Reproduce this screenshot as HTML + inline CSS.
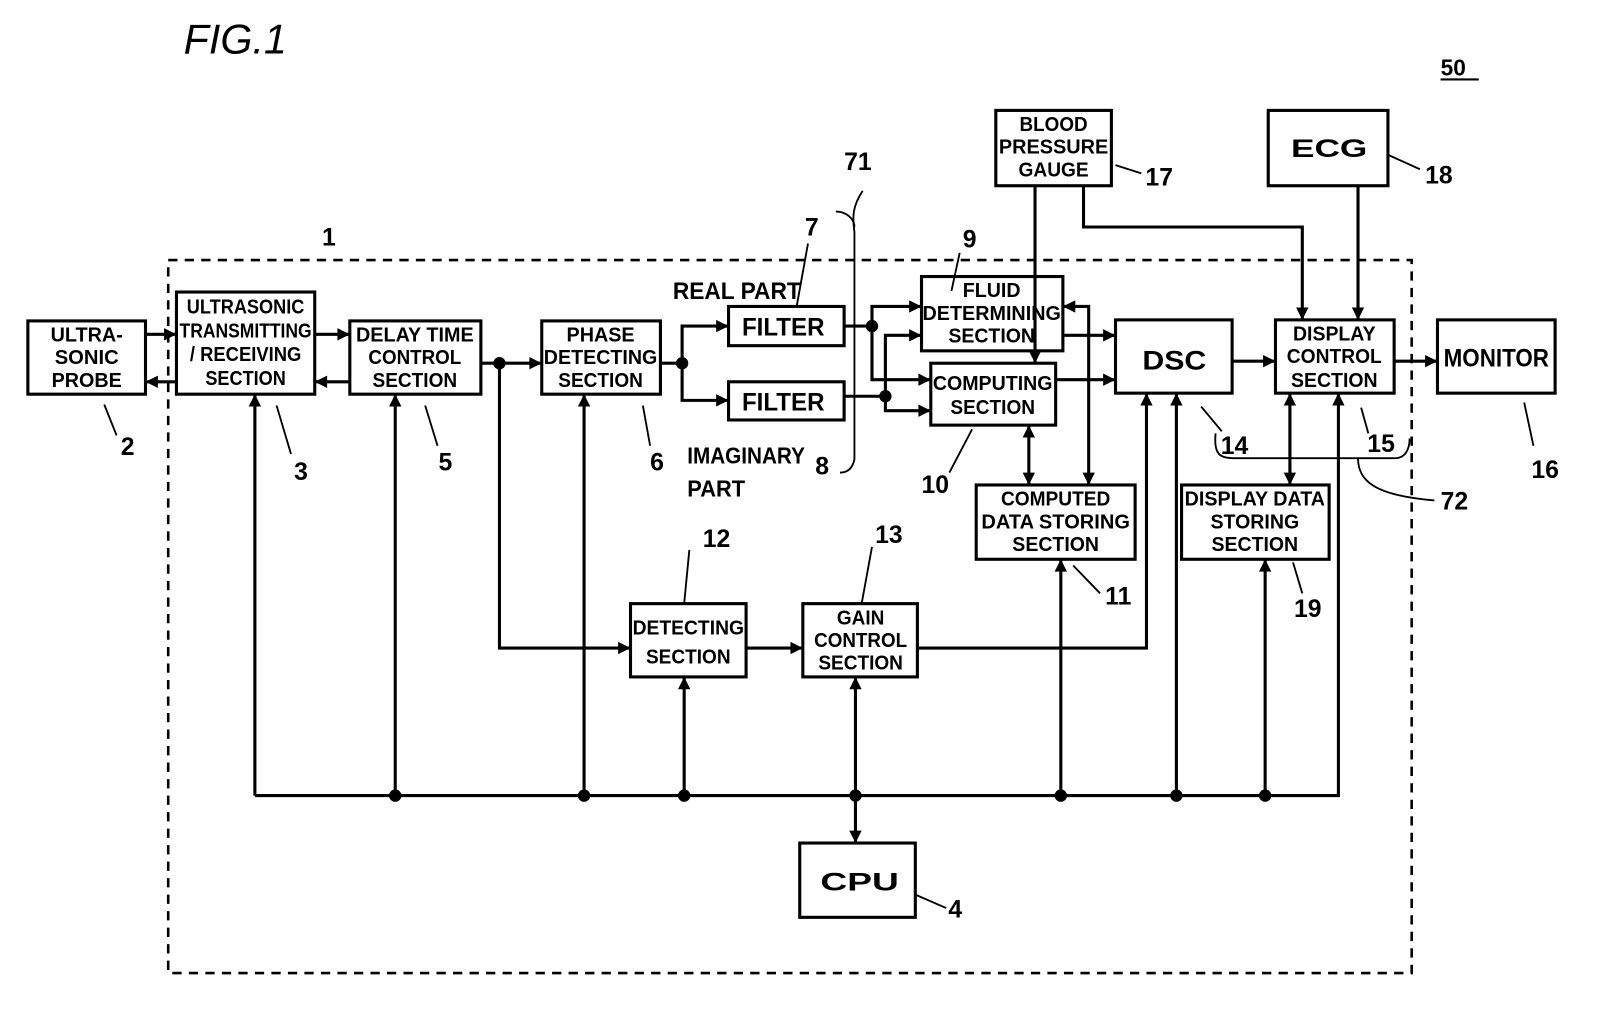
<!DOCTYPE html>
<html><head><meta charset="utf-8"><style>
html,body{margin:0;padding:0;background:#fff;}
svg{display:block}
text{font-family:"Liberation Sans",sans-serif;fill:#000;}
</style></head><body>
<svg width="1616" height="1036" viewBox="0 0 1566 1004" preserveAspectRatio="none" xmlns="http://www.w3.org/2000/svg">
<defs>
<marker id="a" viewBox="0 0 10 10" refX="10" refY="5" markerWidth="13" markerHeight="12" markerUnits="userSpaceOnUse" orient="auto-start-reverse"><path d="M0,0 L10,5 L0,10z" fill="#000"/></marker>
</defs>
<text x="178" y="52" font-family="Liberation Serif" font-style="italic" font-size="40">FIG.1</text>
<text x="1396" y="73" font-size="22" font-weight="bold">50</text>
<line x1="1396" y1="77" x2="1433" y2="77" stroke="#000" stroke-width="2"/>
<rect x="163" y="252" width="1205" height="691" fill="none" stroke="#000" stroke-width="2.5" stroke-dasharray="9,7"/>
<g fill="#fff" stroke="#000" stroke-width="3">
<rect x="27" y="311" width="114" height="71"/>
<rect x="171" y="283" width="134" height="99"/>
<rect x="339" y="311" width="127" height="71"/>
<rect x="525" y="311" width="115" height="71"/>
<rect x="706" y="297" width="112" height="38"/>
<rect x="706" y="370" width="112" height="37"/>
<rect x="893" y="268" width="137" height="72"/>
<rect x="902" y="352" width="121" height="60"/>
<rect x="1081" y="310" width="113" height="71"/>
<rect x="1236" y="310" width="115" height="71"/>
<rect x="1393" y="310" width="114" height="71"/>
<rect x="965" y="107" width="112" height="73"/>
<rect x="1229" y="107" width="116" height="73"/>
<rect x="946" y="470" width="154" height="72"/>
<rect x="1145" y="470" width="143" height="72"/>
<rect x="611" y="585" width="112" height="71"/>
<rect x="778" y="585" width="111" height="71"/>
<rect x="775" y="817" width="112" height="72"/>
</g>
<g font-size="20" text-anchor="middle" font-weight="bold">
<text x="84" y="331" textLength="70" lengthAdjust="spacingAndGlyphs">ULTRA-</text>
<text x="84" y="353" textLength="62" lengthAdjust="spacingAndGlyphs">SONIC</text>
<text x="84" y="375" textLength="68" lengthAdjust="spacingAndGlyphs">PROBE</text>
<text x="238" y="304" textLength="114" lengthAdjust="spacingAndGlyphs">ULTRASONIC</text>
<text x="238" y="327" textLength="128" lengthAdjust="spacingAndGlyphs">TRANSMITTING</text>
<text x="238" y="350" textLength="108" lengthAdjust="spacingAndGlyphs">/ RECEIVING</text>
<text x="238" y="373" textLength="78" lengthAdjust="spacingAndGlyphs">SECTION</text>
<text x="402" y="331" textLength="114" lengthAdjust="spacingAndGlyphs">DELAY TIME</text>
<text x="402" y="353" textLength="90" lengthAdjust="spacingAndGlyphs">CONTROL</text>
<text x="402" y="375" textLength="82" lengthAdjust="spacingAndGlyphs">SECTION</text>
<text x="582" y="331" textLength="66" lengthAdjust="spacingAndGlyphs">PHASE</text>
<text x="582" y="353" textLength="110" lengthAdjust="spacingAndGlyphs">DETECTING</text>
<text x="582" y="375" textLength="82" lengthAdjust="spacingAndGlyphs">SECTION</text>
<text x="759" y="325" font-size="24" textLength="80" lengthAdjust="spacingAndGlyphs">FILTER</text>
<text x="759" y="398" font-size="24" textLength="80" lengthAdjust="spacingAndGlyphs">FILTER</text>
<text x="961" y="288" textLength="56" lengthAdjust="spacingAndGlyphs">FLUID</text>
<text x="961" y="310" textLength="134" lengthAdjust="spacingAndGlyphs">DETERMINING</text>
<text x="961" y="332" textLength="84" lengthAdjust="spacingAndGlyphs">SECTION</text>
<text x="962" y="378" textLength="116" lengthAdjust="spacingAndGlyphs">COMPUTING</text>
<text x="962" y="401" textLength="82" lengthAdjust="spacingAndGlyphs">SECTION</text>
<text x="1138" y="358" font-size="26" textLength="62" lengthAdjust="spacingAndGlyphs">DSC</text>
<text x="1293" y="330" textLength="80" lengthAdjust="spacingAndGlyphs">DISPLAY</text>
<text x="1293" y="352" textLength="92" lengthAdjust="spacingAndGlyphs">CONTROL</text>
<text x="1293" y="375" textLength="84" lengthAdjust="spacingAndGlyphs">SECTION</text>
<text x="1450" y="355" font-size="24" textLength="102" lengthAdjust="spacingAndGlyphs">MONITOR</text>
<text x="1021" y="127" textLength="66" lengthAdjust="spacingAndGlyphs">BLOOD</text>
<text x="1021" y="149" textLength="106" lengthAdjust="spacingAndGlyphs">PRESSURE</text>
<text x="1021" y="171" textLength="68" lengthAdjust="spacingAndGlyphs">GAUGE</text>
<text x="1288" y="152" font-size="24" textLength="74" lengthAdjust="spacingAndGlyphs">ECG</text>
<text x="1023" y="490" textLength="106" lengthAdjust="spacingAndGlyphs">COMPUTED</text>
<text x="1023" y="512" textLength="144" lengthAdjust="spacingAndGlyphs">DATA STORING</text>
<text x="1023" y="534" textLength="84" lengthAdjust="spacingAndGlyphs">SECTION</text>
<text x="1216" y="490" textLength="136" lengthAdjust="spacingAndGlyphs">DISPLAY DATA</text>
<text x="1216" y="512" textLength="86" lengthAdjust="spacingAndGlyphs">STORING</text>
<text x="1216" y="534" textLength="84" lengthAdjust="spacingAndGlyphs">SECTION</text>
<text x="667" y="615" textLength="108" lengthAdjust="spacingAndGlyphs">DETECTING</text>
<text x="667" y="643" textLength="82" lengthAdjust="spacingAndGlyphs">SECTION</text>
<text x="834" y="605" textLength="46" lengthAdjust="spacingAndGlyphs">GAIN</text>
<text x="834" y="627" textLength="90" lengthAdjust="spacingAndGlyphs">CONTROL</text>
<text x="834" y="649" textLength="82" lengthAdjust="spacingAndGlyphs">SECTION</text>
<text x="833" y="863" font-size="24" textLength="76" lengthAdjust="spacingAndGlyphs">CPU</text>
</g>
<g font-size="24" font-weight="bold">
<text x="117" y="441">2</text><text x="285" y="465">3</text><text x="425" y="456">5</text>
<text x="630" y="456">6</text><text x="780" y="228">7</text><text x="790" y="460">8</text>
<text x="933" y="240">9</text><text x="893" y="478">10</text><text x="1071" y="586">11</text>
<text x="681" y="530">12</text><text x="848" y="526">13</text><text x="1183" y="440">14</text>
<text x="1325" y="438">15</text><text x="1484" y="463">16</text><text x="1110" y="180">17</text>
<text x="1381" y="178">18</text><text x="1254" y="598">19</text><text x="312" y="238">1</text>
<text x="919" y="889">4</text><text x="818" y="165">71</text><text x="1396" y="494">72</text>
<text x="652" y="290" font-size="23" textLength="124" lengthAdjust="spacingAndGlyphs">REAL PART</text>
<text x="666" y="449" font-size="22" textLength="114" lengthAdjust="spacingAndGlyphs">IMAGINARY</text>
<text x="666" y="481" font-size="22" textLength="56" lengthAdjust="spacingAndGlyphs">PART</text>
</g>
<g fill="none" stroke="#000" stroke-width="1.8">
<path d="M101,392 L113,422"/><path d="M268,393 L282,440"/><path d="M412,393 L424,432"/>
<path d="M623,393 L630,432"/><path d="M783,236 L772,297"/><path d="M930,245 L922,282"/>
<path d="M920,458 L942,416"/><path d="M1040,548 L1066,575"/><path d="M668,533 L663,585"/>
<path d="M845,530 L835,585"/><path d="M1164,394 L1184,418"/><path d="M1319,395 L1326,420"/>
<path d="M1477,390 L1486,432"/><path d="M1081,160 L1106,168"/><path d="M1345,150 L1376,164"/>
<path d="M1253,545 L1262,575"/><path d="M887,867 L917,880"/>
<path d="M836,185 C826,200 826,210 828,225 L828,445 C826,455 820,458 814,458"/>
<path d="M810,205 C820,205 828,212 828,220"/>
<path d="M1178,420 C1176,440 1182,444 1195,444 L1352,444 C1362,444 1366,435 1366,425"/>
<path d="M1316,444 C1316,465 1330,480 1390,485"/>
</g>
<g fill="none" stroke="#000" stroke-width="3">
<path d="M141,324 L171,324" marker-end="url(#a)"/>
<path d="M171,370 L141,370" marker-end="url(#a)"/>
<path d="M305,324 L339,324" marker-end="url(#a)"/>
<path d="M339,370 L305,370" marker-end="url(#a)"/>
<path d="M466,352 L525,352" marker-end="url(#a)"/>
<path d="M484,352 L484,628 L611,628" marker-end="url(#a)"/>
<path d="M723,628 L778,628" marker-end="url(#a)"/>
<path d="M889,628 L1111,628 L1111,381" marker-end="url(#a)"/>
<path d="M640,352 L661,352"/>
<path d="M661,352 L661,316 L706,316" marker-end="url(#a)"/>
<path d="M661,352 L661,388 L706,388" marker-end="url(#a)"/>
<path d="M818,316 L845,316 L845,297 L893,297" marker-end="url(#a)"/>
<path d="M845,316 L845,368 L902,368" marker-end="url(#a)"/>
<path d="M818,384 L858,384 L858,325 L893,325" marker-end="url(#a)"/>
<path d="M858,384 L858,398 L902,398" marker-end="url(#a)"/>
<path d="M1030,325 L1081,325" marker-end="url(#a)"/>
<path d="M1023,368 L1081,368" marker-end="url(#a)"/>
<path d="M1055,470 L1055,297 L1030,297" marker-start="url(#a)" marker-end="url(#a)"/>
<path d="M997,412 L997,470" marker-start="url(#a)" marker-end="url(#a)"/>
<path d="M1003,180 L1003,352" marker-end="url(#a)"/>
<path d="M1050,180 L1050,220 L1262,220 L1262,310" marker-end="url(#a)"/>
<path d="M1316,180 L1316,310" marker-end="url(#a)"/>
<path d="M1194,350 L1236,350" marker-end="url(#a)"/>
<path d="M1351,350 L1393,350" marker-end="url(#a)"/>
<path d="M1250,381 L1250,470" marker-start="url(#a)" marker-end="url(#a)"/>
<path d="M247,771 L1297,771 L1297,381" marker-end="url(#a)"/>
<path d="M247,771 L247,382" marker-end="url(#a)"/>
<path d="M383,771 L383,382" marker-end="url(#a)"/>
<path d="M566,771 L566,382" marker-end="url(#a)"/>
<path d="M663,771 L663,656" marker-end="url(#a)"/>
<path d="M829,656 L829,817" marker-start="url(#a)" marker-end="url(#a)"/>
<path d="M1028,771 L1028,542" marker-end="url(#a)"/>
<path d="M1140,771 L1140,381" marker-end="url(#a)"/>
<path d="M1226,771 L1226,542" marker-end="url(#a)"/>
</g>
<g fill="#000">
<circle cx="484" cy="352" r="6"/><circle cx="661" cy="352" r="6"/>
<circle cx="845" cy="316" r="6"/><circle cx="858" cy="384" r="6"/>
<circle cx="383" cy="771" r="6"/><circle cx="566" cy="771" r="6"/><circle cx="663" cy="771" r="6"/>
<circle cx="829" cy="771" r="6"/><circle cx="1028" cy="771" r="6"/><circle cx="1140" cy="771" r="6"/>
<circle cx="1226" cy="771" r="6"/>
</g>
</svg>
</body></html>
